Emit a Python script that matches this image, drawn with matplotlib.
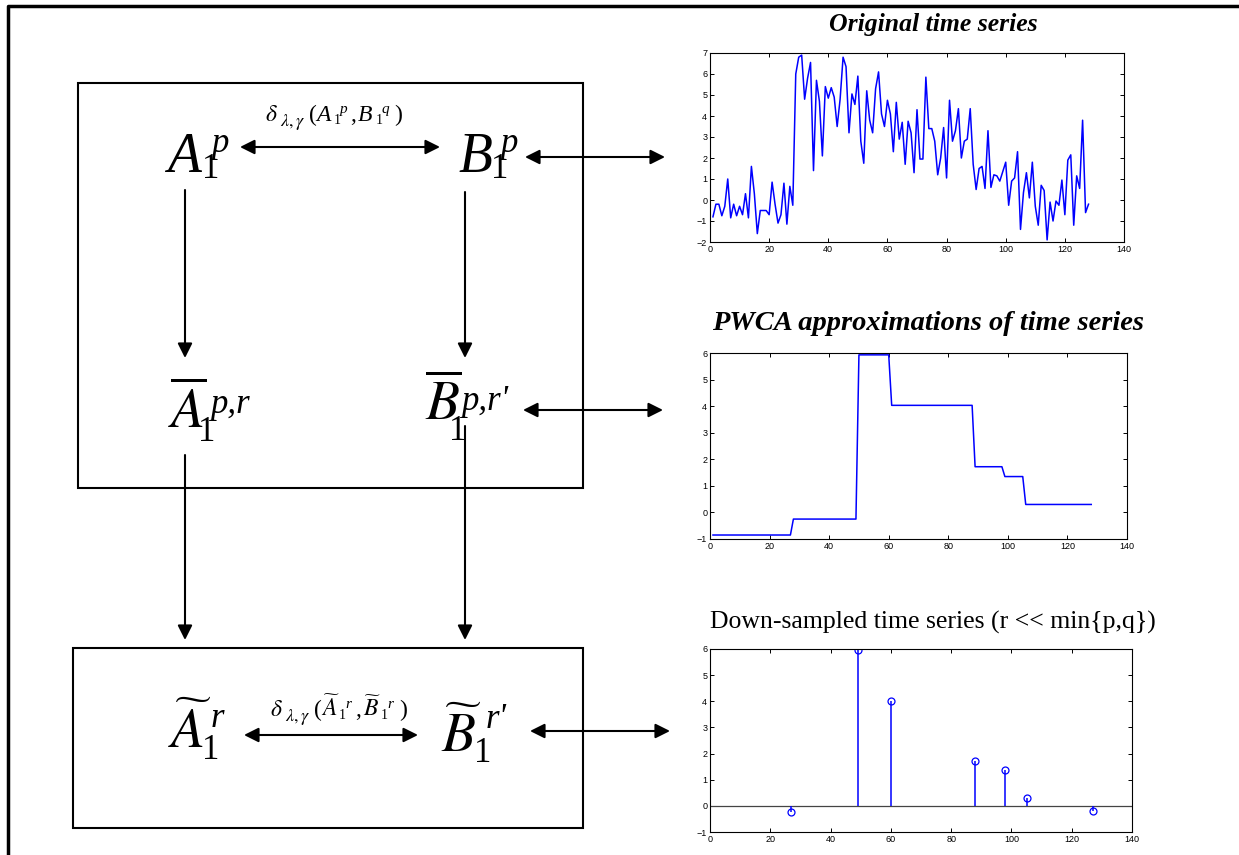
import matplotlib.pyplot as plt
from matplotlib.patches import Rectangle

# original time series, x = 1..128
series = [-0.8, -0.2, -0.2, -0.75, -0.3, 1.0, -0.85, -0.2, -0.75, -0.3,
          -0.7, 0.3, -0.85, 1.6, 0.3, -1.6, -0.5, -0.5, -0.5, -0.7,
          0.85, -0.2, -1.1, -0.7, 0.8, -1.15, 0.65, -0.25, 6.0, 6.8,
          6.9, 4.8, 5.8, 6.55, 1.4, 5.7, 4.7, 2.1, 5.4, 4.85,
          5.35, 4.9, 3.5, 4.8, 6.8, 6.35, 3.2, 5.05, 4.55, 5.9,
          2.8, 1.75, 5.2, 3.8, 3.2, 5.3, 6.1, 4.1, 3.5, 4.75,
          4.1, 2.3, 4.65, 2.9, 3.7, 1.7, 3.75, 3.2, 1.3, 4.3,
          1.95, 1.95, 5.85, 3.4, 3.4, 2.8, 1.2, 2.0, 3.45, 1.05,
          4.75, 2.8, 3.3, 4.35, 2.0, 2.8, 2.9, 4.35, 1.7, 0.5,
          1.5, 1.6, 0.55, 3.3, 0.6, 1.2, 1.15, 0.9, 1.35, 1.8,
          -0.25, 0.9, 1.05, 2.3, -1.4, 0.35, 1.3, 0.1, 1.8, -0.3,
          -1.2, 0.7, 0.45, -1.9, -0.1, -1.0, -0.05, -0.25, 0.95, -0.7,
          1.9, 2.15, -1.2, 1.15, 0.55, 3.8, -0.6, -0.2]
series_x = list(range(1, len(series) + 1))

# PWCA approximation: corner points of the piecewise constant curve
pwca_x = [1, 27, 28, 49, 50, 60, 61, 88, 89, 98, 99, 105, 106, 128]
pwca_y = [-0.85, -0.85, -0.25, -0.25, 5.93, 5.93, 4.03, 4.03,
          1.72, 1.72, 1.35, 1.35, 0.3, 0.3]

# down-sampled series
down_x = [27, 49, 60, 88, 98, 105, 127]
down_y = [-0.25, 5.95, 4.03, 1.72, 1.37, 0.3, -0.2]

W, H = 1239, 855
blue = '#0000ff'
serif = 'Liberation Serif'
plt.rcParams['mathtext.fontset'] = 'stix'

fig = plt.figure(figsize=(W / 100, H / 100), dpi=100)

# overlay in pixel coordinates for the diagram
ov = fig.add_axes([0, 0, 1, 1])
ov.set_xlim(0, W)
ov.set_ylim(H, 0)
ov.axis('off')

# outer frame (left and top)
ov.plot([8, 8, W], [H, 6, 6], color='black', lw=2.5, solid_capstyle='butt')

ov.add_patch(Rectangle((78, 83), 505, 405, fill=False, ec='black', lw=1.5))
ov.add_patch(Rectangle((73, 648), 510, 180, fill=False, ec='black', lw=1.5))


def arrow(x0, y0, x1, y1, both=False):
    style = '<|-|>' if both else '-|>'
    ov.annotate('', xy=(x1, y1), xytext=(x0, y0),
                arrowprops=dict(arrowstyle=style, color='black', lw=1.5,
                                mutation_scale=22, shrinkA=0, shrinkB=0))


arrow(240, 147, 440, 147, both=True)
arrow(244, 735, 418, 735, both=True)
arrow(185, 190, 185, 358)
arrow(465, 192, 465, 358)
arrow(185, 455, 185, 640)
arrow(465, 426, 465, 640)
arrow(525, 157, 665, 157, both=True)
arrow(523, 410, 663, 410, both=True)
arrow(530, 731, 670, 731, both=True)


def put(x, y, s, size, italic=True):
    # one piece of a formula, (x, y) = left end of its baseline in pixels
    if s.startswith('$'):
        ov.text(x, y, s, fontsize=size, va='baseline', ha='left')
    else:
        ov.text(x, y, s, fontsize=size, va='baseline', ha='left', family=serif,
                style='italic' if italic else 'normal')


def symbol(x, y, main, sup, sub_dx, sub_dy, sup_dx, sup_dy, big=40, small=25):
    put(x, y, main, big)
    put(x + sub_dx, y + sub_dy, '1', small, italic=False)
    put(x + sup_dx, y + sup_dy, sup, small)


symbol(167, 172, 'A', 'p', 35, 6, 44, -20)
symbol(458, 172, 'B', 'p', 33, 6, 42, -20)
symbol(168, 428, r'$\overline{A}$', 'p,r', 30, 13, 42, -15)
symbol(425, 420, r'$\overline{B}$', "p,r'", 24, 20, 36, -10)
symbol(168, 748, r'$\widetilde{A}$', 'r', 34, 11, 43, -21)
symbol(441, 752, r'$\widetilde{B}$', "r'", 33, 10, 45, -24)


def distance(x, y, a, b, sup_a, sup_b):
    put(x, y, r'$\delta$', 17)
    put(x + 15, y + 5, r'$\lambda,\gamma$', 13)
    put(x + 44, y, '(', 17, italic=False)
    put(x + 51, y, a, 17)
    put(x + 69, y + 3, '1', 10, italic=False)
    put(x + 75, y - 8, sup_a, 11)
    put(x + 85, y, ',', 17, italic=False)
    put(x + 93, y, b, 17)
    put(x + 111, y + 3, '1', 10, italic=False)
    put(x + 117, y - 8, sup_b, 11)
    put(x + 129, y, ')', 17, italic=False)


distance(265, 121, 'A', 'B', 'p', 'q')
distance(270, 716, r'$\widetilde{A}$', r'$\widetilde{B}$', 'r', 'r')

ov.text(933, 25, 'Original time series', fontsize=18.5, family=serif,
        weight='bold', style='italic', ha='center', va='center')
ov.text(928, 323, 'PWCA approximations of time series', fontsize=20.5,
        family=serif, weight='bold', style='italic', ha='center', va='center')
ov.text(933, 622, 'Down-sampled time series (r << min{p,q})', fontsize=18.5,
        family=serif, ha='center', va='center')


def plot_axes(left, top, right, bottom):
    ax = fig.add_axes([left / W, 1 - bottom / H, (right - left) / W, (bottom - top) / H])
    ax.tick_params(direction='in', top=True, right=True, labelsize=6.5,
                   length=3, width=0.7, pad=2)
    for s in ax.spines.values():
        s.set_linewidth(0.8)
    ax.set_xlim(0, 140)
    ax.set_xticks(range(0, 141, 20))
    return ax


ax1 = plot_axes(710, 53, 1124, 242)
ax1.plot(series_x, series, color=blue, lw=1.1)
ax1.set_ylim(-2, 7)
ax1.set_yticks(range(-2, 8))

ax2 = plot_axes(710, 353, 1127, 539)
ax2.plot(pwca_x, pwca_y, color=blue, lw=1.1)
ax2.set_ylim(-1, 6)
ax2.set_yticks(range(-1, 7))

ax3 = plot_axes(710, 649, 1132, 832)
ax3.axhline(0, color='#444444', lw=0.9)
ax3.vlines(down_x, 0, down_y, color=blue, lw=1.1)
ax3.plot(down_x, down_y, 'o', mfc='none', mec=blue, ms=5, mew=0.9)
ax3.set_ylim(-1, 6)
ax3.set_yticks(range(-1, 7))

for ax in (ax1, ax2, ax3):
    for lab in ax.get_xticklabels() + ax.get_yticklabels():
        lab.set_family('Liberation Sans')

fig.savefig('out.png', dpi=100)
